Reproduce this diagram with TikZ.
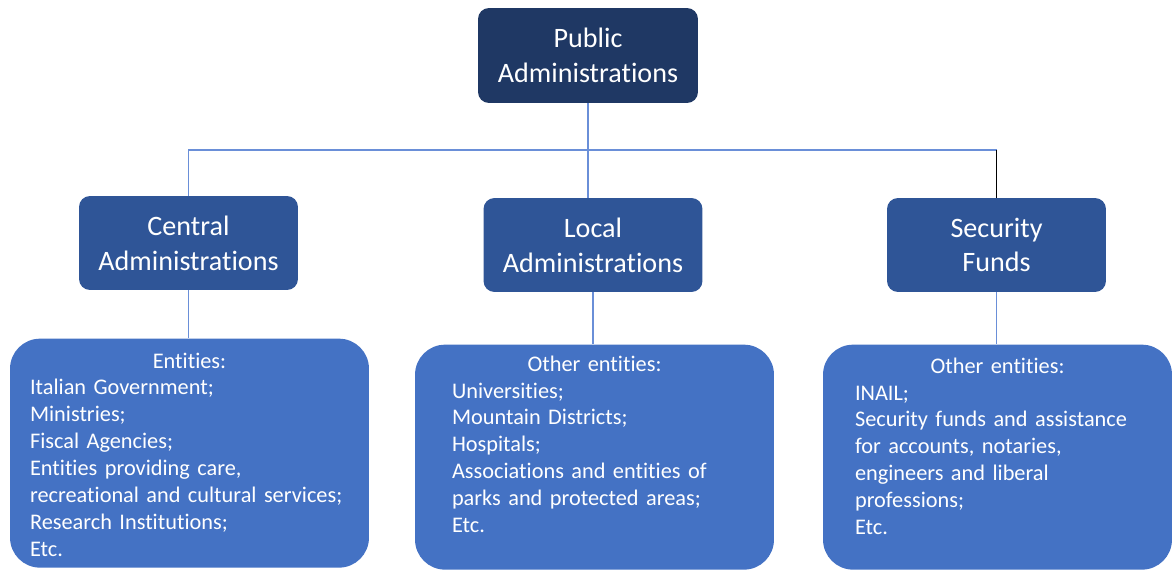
\documentclass[tikz,border=0pt]{standalone}
\usepackage{fontspec}
\setmainfont{Carlito}[Ligatures={NoCommon,NoContextual,NoRequired},Contextuals=NoAlternate]
\usepackage{tikz}
\usetikzlibrary{positioning}
\usetikzlibrary{calc}
\definecolor{navy}{HTML}{1F3864}
\definecolor{midblue}{HTML}{2F5597}
\definecolor{entblue}{HTML}{4472C4}
\definecolor{linkblue}{HTML}{6A8FD8}
\tikzstyle{head}=[rectangle,rounded corners=0.22cm,fill=navy,text=white,align=center,inner sep=0pt,minimum width=4.4cm,minimum height=1.9cm,font=\fontsize{16}{19.8}\selectfont]
\tikzstyle{branch}=[head,fill=midblue,minimum width=4.38cm,minimum height=1.88cm]
\tikzstyle{entbox}=[rectangle,rounded corners=0.6cm,fill=entblue,inner sep=0pt,minimum height=4.5cm]
\tikzstyle{entlist}=[text=white,align=left,inner sep=0pt,anchor=north,font=\fontsize{12.7}{15.3}\selectfont]
\tikzstyle{link}=[draw=linkblue,line width=1pt]
% centred first line inside a left-aligned list
\newcommand{\listhead}[1]{\hbox to\hsize{\hfil #1\hfil}}

\begin{document}
\begin{tikzpicture}[x=0.02cm,y=-0.02cm]
	\useasboundingbox (0,0) rectangle (1173,570);
	\node[head] (pa) at (588,55.5) {Public\\Administrations};
	\node[branch] (ca) at (188.5,243) {Central\\Administrations};
	\node[branch] (la) at (593,245) {Local\\Administrations};
	\node[branch] (sf) at (996.5,245) {Security\\Funds};
	
	\node[entbox,minimum width=7.18cm,minimum height=4.58cm,below=0.96cm of ca,xshift=0.02cm] (cbox) {};
	\node[entbox,minimum width=7.18cm,below=1.04cm of la,xshift=0.03cm] (lbox) {};
	\node[entbox,minimum width=6.98cm,below=1.04cm of sf,xshift=0.02cm] (sbox) {};
	
	\node[entlist,text width=6.38cm] (clist) at ($(cbox.north)+(0,14)$) {\listhead{Entities:}\\Italian Government;\\Ministries;\\Fiscal Agencies;\\Entities providing care,\\recreational and cultural services;\\Research Institutions;\\Etc.};
	\node[entlist,text width=5.7cm] (llist) at ($(lbox.north)+(0,11)$) {\listhead{Other entities:}\\Universities;\\Mountain Districts;\\Hospitals;\\Associations and entities of\\parks and protected areas;\\Etc.};
	\node[entlist,text width=5.7cm] (slist) at ($(sbox.north)+(0,13)$) {\listhead{Other entities:}\\INAIL;\\Security funds and assistance\\for accounts, notaries,\\engineers and liberal\\professions;\\Etc.};
	
	\coordinate (bus) at (588,150);
	\draw[link] (pa.south) -- (pa.south |- la.north);
	\draw[link] (ca.north) |- (bus -| sf.north);
	\draw[black,line width=1pt] (bus -| sf.north) -- (sf.north);
	
	\draw[link] (ca.south) -- (ca.south |- cbox.north);
	\draw[link] (la.south) -- (la.south |- lbox.north);
	\draw[link] (sf.south) -- (sf.south |- sbox.north);
\end{tikzpicture}
\end{document}
